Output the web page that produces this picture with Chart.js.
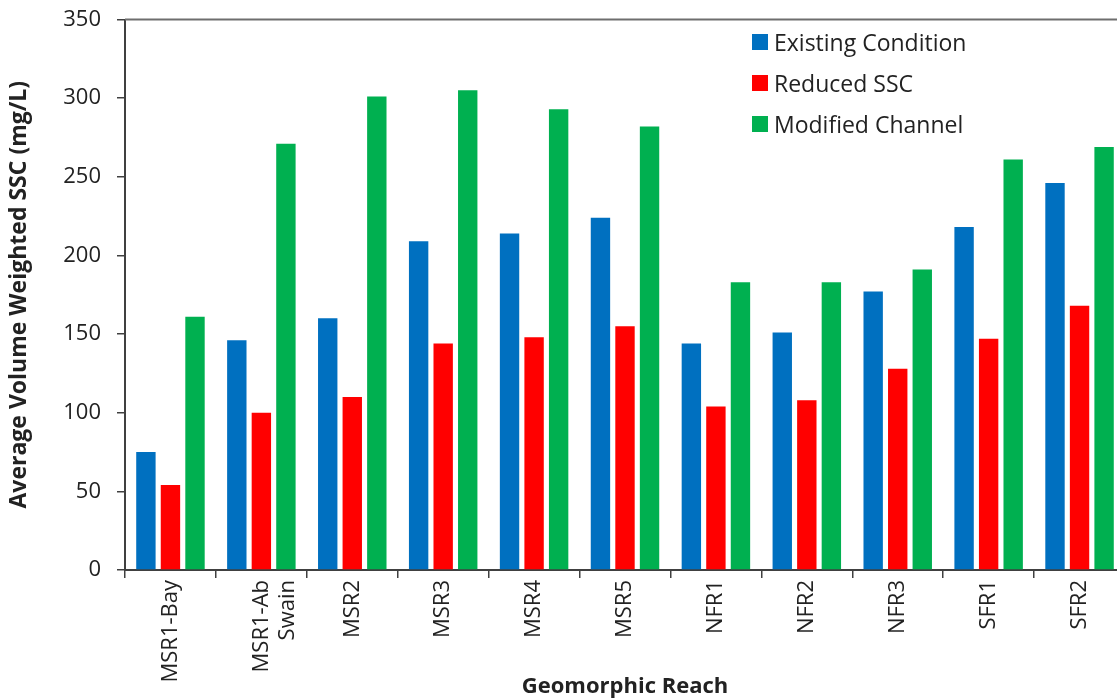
<!DOCTYPE html>
<html>
<head>
<meta charset="utf-8">
<script src="https://cdn.jsdelivr.net/npm/chart.js@4.4.1/dist/chart.umd.min.js"></script>
<style>
  html, body { margin: 0; padding: 0; background: #fff; overflow: hidden; }
  #wrap { position: relative; width: 1130px; height: 700px; }
  #legend { position: absolute; left: 752px; top: 21px; font-family: 'Open Sans', sans-serif; font-size: 23px; color: #222; }
  #legend .row { display: flex; align-items: center; height: 41px; }
  #legend .box { width: 16px; height: 16px; margin-right: 6px; }
</style>
</head>
<body>
<div id="wrap">
  <canvas id="chart"></canvas>
  <div id="legend"></div>
</div>
<script>
const reaches = ['MSR1-Bay', ['MSR1-Ab', 'Swain'], 'MSR2', 'MSR3', 'MSR4', 'MSR5', 'NFR1', 'NFR2', 'NFR3', 'SFR1', 'SFR2'];
const existingCondition = [75, 146, 160, 209, 214, 224, 144, 151, 177, 218, 246];
const reducedSSC = [54, 100, 110, 144, 148, 155, 104, 108, 128, 147, 168];
const modifiedChannel = [161, 271, 301, 305, 293, 282, 183, 183, 191, 261, 269];
const seriesNames = ['Existing Condition', 'Reduced SSC', 'Modified Channel'];
const seriesColors = ['#0070c0', '#ff0000', '#00b050'];
const yTicks = [0, 50, 100, 150, 200, 250, 300, 350];

const textColor = '#222';
const axisColor = '#404040';
const fontFamily = "'Open Sans', sans-serif";

const topBorder = {
  id: 'topBorder',
  afterDraw(chart) {
    const { ctx, chartArea } = chart;
    ctx.save();
    ctx.strokeStyle = '#6e6e6e';
    ctx.lineWidth = 2;
    ctx.beginPath();
    ctx.moveTo(chartArea.left, chartArea.top);
    ctx.lineTo(chartArea.right, chartArea.top);
    ctx.stroke();
    ctx.restore();
  }
};

const values = [existingCondition, reducedSSC, modifiedChannel];

new Chart(document.getElementById('chart'), {
  type: 'bar',
  data: {
    labels: reaches,
    datasets: values.map((data, i) => ({
      label: seriesNames[i],
      data,
      backgroundColor: seriesColors[i],
      borderWidth: 0,
      categoryPercentage: 0.81,
      barPercentage: 0.79
    }))
  },
  options: {
    responsive: true,
    maintainAspectRatio: false,
    animation: false,
    layout: { padding: { top: 19.5, right: 5, bottom: 0, left: 0 } },
    plugins: {
      legend: { display: false },
      tooltip: { enabled: false }
    },
    scales: {
      x: {
        grid: { display: true, drawOnChartArea: false, drawTicks: true, tickLength: 8, color: axisColor, lineWidth: 1.5 },
        border: { display: true, color: axisColor, width: 2 },
        ticks: {
          color: textColor,
          font: { family: fontFamily, size: 22 },
          minRotation: 90,
          maxRotation: 90,
          autoSkip: false,
          padding: 2
        },
        title: {
          display: true,
          text: 'Geomorphic Reach',
          color: textColor,
          font: { family: fontFamily, size: 22, weight: 'bold' },
          padding: { top: 0, bottom: 0 }
        },
        afterFit(axis) {
          axis.height = 130;
          axis.paddingLeft = 0;
          axis.paddingRight = 0;
        }
      },
      y: {
        min: 0,
        max: 350,
        afterBuildTicks(axis) { axis.ticks = yTicks.map((v) => ({ value: v })); },
        grid: { display: true, drawOnChartArea: false, drawTicks: true, tickLength: 8, color: axisColor, lineWidth: 1.5 },
        border: { display: true, color: axisColor, width: 2 },
        ticks: {
          color: textColor,
          font: { family: fontFamily, size: 22 },
          padding: 16
        },
        title: {
          display: true,
          text: 'Average Volume Weighted SSC (mg/L)',
          color: textColor,
          font: { family: fontFamily, size: 23, weight: 'bold' },
          padding: { top: 6, bottom: 0 }
        },
        afterFit(axis) {
          axis.width = 125;
          axis.paddingTop = 0;
          axis.paddingBottom = 0;
        }
      }
    }
  },
  plugins: [topBorder]
});

const legend = document.getElementById('legend');
seriesNames.forEach((name, i) => {
  const row = document.createElement('div');
  row.className = 'row';
  const box = document.createElement('span');
  box.className = 'box';
  box.style.background = seriesColors[i];
  const label = document.createElement('span');
  label.textContent = name;
  row.appendChild(box);
  row.appendChild(label);
  legend.appendChild(row);
});
</script>
</body>
</html>
